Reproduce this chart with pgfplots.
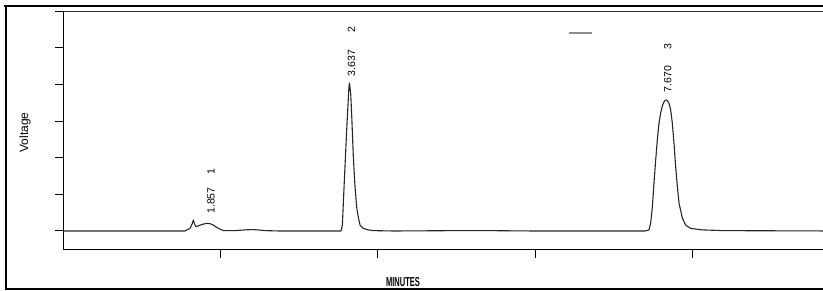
\documentclass[border=0pt]{standalone}
\usepackage{fontspec}
\setmainfont{Liberation Sans}
\usepackage{pgfplots}
\pgfplotsset{compat=1.18}
\usepackage{pgfplotstable}
\pgfplotstableread{
t v
0 0
1.547 0
1.568 0.03
1.610 0.07
1.636 0.19
1.652 0.30
1.667 0.19
1.683 0.12
1.716 0.14
1.763 0.18
1.823 0.21
1.865 0.20
1.907 0.16
1.971 0.07
2.035 0.01
2.183 0.01
2.310 0.03
2.399 0.04
2.475 0.03
2.564 0.01
2.755 0
3.531 0
3.548 0.16
3.561 0.80
3.582 1.80
3.604 2.81
3.624 3.63
3.631 3.92
3.637 4.04
3.643 3.96
3.655 3.72
3.668 3.09
3.688 1.99
3.710 1.17
3.731 0.63
3.752 0.36
3.773 0.16
3.815 0.07
3.879 0.03
3.942 0.01
4.200 0
5.000 0.01
5.400 0.01
6.000 0
7.400 0
7.449 0.03
7.470 0.21
7.492 0.66
7.512 1.30
7.534 1.94
7.555 2.49
7.576 2.94
7.597 3.22
7.619 3.42
7.640 3.53
7.655 3.57
7.670 3.58
7.686 3.55
7.703 3.49
7.725 3.31
7.746 2.94
7.767 2.40
7.788 1.76
7.810 1.21
7.831 0.76
7.874 0.35
7.916 0.16
7.979 0.07
8.128 0.03
8.400 0.01
9.800 0
}\chrom
\begin{document}
\begin{tikzpicture}
\begin{axis}[
  at={(63.5pt,41.7pt)}, anchor=south west,
  scale only axis,
  width=770.3pt, height=237.9pt,
  xmin=0, xmax=9.8, ymin=-0.5, ymax=6,
  axis x line*=bottom, axis y line*=left,
  axis line style={-, black, line width=1.3pt},
  xtick={2,4,6,8}, ytick={0,1,2,3,4,5,6},
  xticklabels={}, yticklabels={},
  tick align=outside,
  major tick length=8.5pt,
  tick style={black, line width=1pt},
  xlabel={\scalebox{0.58}[1]{\fontsize{13}{15}\selectfont\bfseries MINUTES}},
  ylabel={\fontsize{12}{14}\selectfont Voltage},
  xlabel style={at={(axis description cs:0.4407,-0.1396)}, anchor=center},
  ylabel style={at={(axis description cs:-0.05,0.491)}, anchor=center},
  legend image code/.code={\draw[black!45, line width=1.1pt] (0pt,0pt) -- (23pt,0pt);},
  legend style={draw=none, fill=none, at={(axis cs:6.419,5.41)}, anchor=west, inner sep=0pt, nodes={inner sep=0pt}},
  clip=true,
]
\addplot[black!85, line width=1.1pt, line join=round, forget plot] table[x=t, y=v] {\chrom};
\addlegendimage{black!45}
\addlegendentry{}
\draw[black!80, line width=0.8pt] (rel axis cs:0,1) -- (rel axis cs:1,1);
\node[rotate=90, anchor=center, font=\fontsize{10.5}{12}\selectfont] at (axis cs:1.877,0.833) {1.857};
\node[rotate=90, anchor=center, font=\fontsize{10.5}{12}\selectfont] at (axis cs:1.877,1.626) {1};
\node[rotate=90, anchor=center, font=\fontsize{10.5}{12}\selectfont] at (axis cs:3.665,4.59) {3.637};
\node[rotate=90, anchor=center, font=\fontsize{10.5}{12}\selectfont] at (axis cs:3.665,5.49) {2};
\node[rotate=90, anchor=center, font=\fontsize{10.5}{12}\selectfont] at (axis cs:7.687,4.153) {7.670};
\node[rotate=90, anchor=center, font=\fontsize{10.5}{12}\selectfont] at (axis cs:7.687,5.04) {3};
\end{axis}
\draw[black, line width=2.5pt] (4pt,284.8pt) -- (830pt,284.8pt);
\draw[black, line width=2.5pt] (6.2pt,286pt) -- (6.2pt,1.2pt);
\draw[black, line width=2pt] (5pt,2.3pt) -- (830pt,2.3pt);
\pgfresetboundingbox
\useasboundingbox (0pt,0pt) rectangle (823pt,291pt);
\end{tikzpicture}
\end{document}
